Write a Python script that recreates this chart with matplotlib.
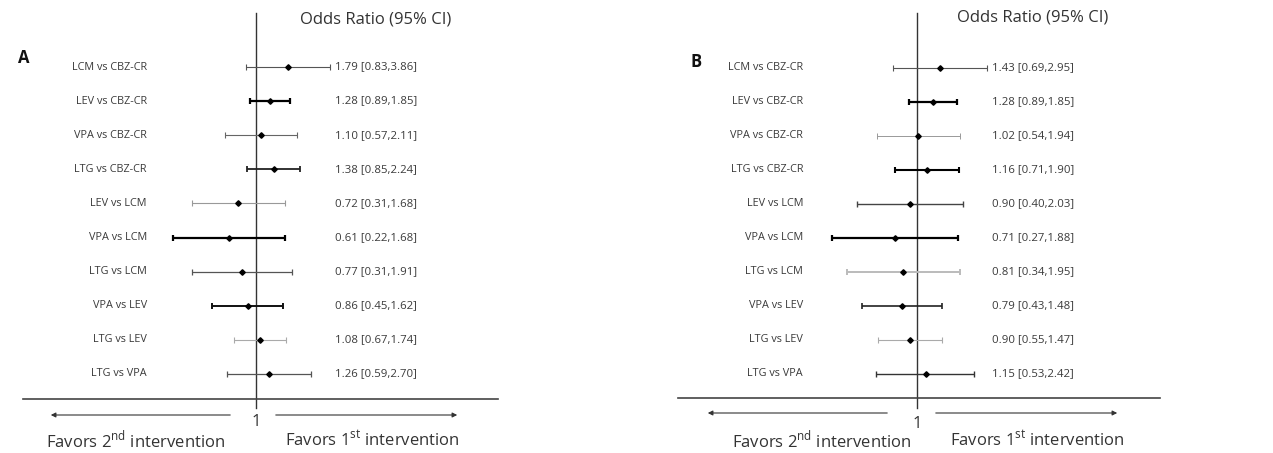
import numpy as np
import matplotlib
matplotlib.use('Agg')
import matplotlib.pyplot as plt
from matplotlib.transforms import blended_transform_factory

plt.rcParams['font.family'] = ['Open Sans', 'DejaVu Sans']
plt.rcParams['mathtext.fontset'] = 'custom'
plt.rcParams['mathtext.rm'] = 'Open Sans'

comparisons = ['LCM vs CBZ-CR', 'LEV vs CBZ-CR', 'VPA vs CBZ-CR', 'LTG vs CBZ-CR',
               'LEV vs LCM', 'VPA vs LCM', 'LTG vs LCM', 'VPA vs LEV',
               'LTG vs LEV', 'LTG vs VPA']

or_a = [1.79, 1.28, 1.10, 1.38, 0.72, 0.61, 0.77, 0.86, 1.08, 1.26]
lo_a = [0.83, 0.89, 0.57, 0.85, 0.31, 0.22, 0.31, 0.45, 0.67, 0.59]
hi_a = [3.86, 1.85, 2.11, 2.24, 1.68, 1.68, 1.91, 1.62, 1.74, 2.70]

or_b = [1.43, 1.28, 1.02, 1.16, 0.90, 0.71, 0.81, 0.79, 0.90, 1.15]
lo_b = [0.69, 0.89, 0.54, 0.71, 0.40, 0.27, 0.34, 0.43, 0.55, 0.53]
hi_b = [2.95, 1.85, 1.94, 1.90, 2.03, 1.88, 1.95, 1.48, 1.47, 2.42]

# line styles per row (width, colour), as drawn in the original
style_a = [(0.8, '#555555'), (1.6, '#000000'), (0.8, '#666666'), (1.3, '#222222'),
           (0.8, '#999999'), (1.6, '#000000'), (0.9, '#555555'), (1.4, '#111111'),
           (0.8, '#aaaaaa'), (0.9, '#555555')]
style_b = [(0.8, '#555555'), (1.6, '#000000'), (0.7, '#999999'), (1.5, '#000000'),
           (1.0, '#444444'), (1.6, '#000000'), (1.4, '#bbbbbb'), (1.2, '#222222'),
           (0.8, '#aaaaaa'), (1.0, '#333333')]

W, H = 1273, 453
fig = plt.figure(figsize=(W / 100, H / 100), dpi=100)


def px(x, y):
    # figure pixel (from top-left) -> figure fraction
    return x / W, 1 - y / H


def panel(left, right, x_one, px_per_ln, row0, row_step, ors, los, his, styles,
          letter, letter_xy, label_x, value_x, title_xy, hline, arrows, one_y, fav):
    ax = fig.add_axes([left / W, 0, (right - left) / W, 1])
    ax.set_xscale('log')
    ax.set_xlim(np.exp(-(x_one - left) / px_per_ln), np.exp((right - x_one) / px_per_ln))
    ax.set_ylim((H - row0) / row_step, -row0 / row_step)
    ax.axis('off')
    n = len(comparisons)
    ax.axvline(1, ymin=1 - 408 / H, ymax=1 - 13 / H, color='#333333', lw=1.0)
    for i in range(n):
        lw, c = styles[i]
        ax.errorbar(ors[i], i, xerr=[[ors[i] - los[i]], [his[i] - ors[i]]], fmt='D',
                    color=c, ecolor=c, elinewidth=lw, capsize=2, capthick=lw,
                    markersize=2.8, markerfacecolor='black', markeredgecolor='black')
    tr = blended_transform_factory(fig.transFigure, ax.transData)
    for i in range(n):
        ax.text(label_x / W, i, comparisons[i], transform=tr, ha='right', va='center',
                fontsize=7.8, color='#3a3a3a')
        ax.text(value_x / W, i, f'{ors[i]:.2f} [{los[i]:.2f},{his[i]:.2f}]', transform=tr,
                ha='left', va='center', fontsize=8.2, color='#3a3a3a')
    fig.text(*px(*title_xy), 'Odds Ratio (95% CI)', ha='left', va='center',
             fontsize=12, color='#333333')
    fig.text(*px(*letter_xy), letter, ha='left', va='center', fontsize=12,
             fontweight='bold', color='#111111')
    fig.add_artist(plt.Line2D([hline[0] / W, hline[1] / W], [1 - hline[2] / H] * 2,
                              color='#444444', lw=1.2, transform=fig.transFigure))
    ay = arrows[2]
    for a in arrows[:2]:
        fig.add_artist(matplotlib.patches.FancyArrowPatch(
            px(a[0], ay), px(a[1], ay), transform=fig.transFigure,
            arrowstyle='-|>', mutation_scale=7, color='#333333', lw=0.8))
    fig.text(*px(x_one, one_y), '1', ha='center', va='center', fontsize=12, color='#333333')
    fig.text(*px(fav[0], fav[2]), r'Favors 2$^{\mathrm{nd}}$ intervention', ha='center',
             va='center', fontsize=12, color='#333333')
    fig.text(*px(fav[1], fav[2]), r'Favors 1$^{\mathrm{st}}$ intervention', ha='center',
             va='center', fontsize=12, color='#333333')


panel(0, 636, 256, 55, 67, 34.1, or_a, lo_a, hi_a, style_a,
      'A', (18, 58), 147, 335, (300, 19), (23, 498, 399),
      ((233, 48), (273, 460), 415), 422, (136, 372, 440))
panel(636, 1273, 917, 65, 68, 34.0, or_b, lo_b, hi_b, style_b,
      'B', (690, 62), 803, 992, (957, 17), (678, 1160, 398),
      ((890, 705), (933, 1120), 413), 424, (822, 1037, 440))

fig.savefig('out.png', dpi=100)
